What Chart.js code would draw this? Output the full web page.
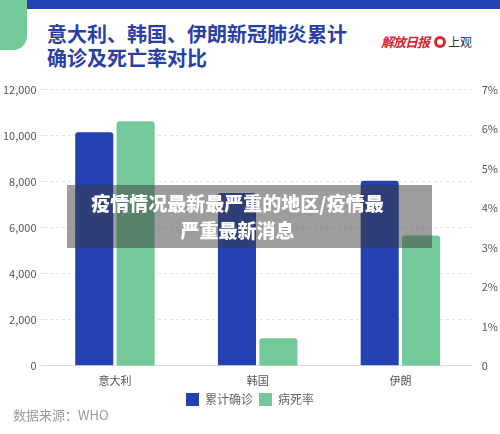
<!DOCTYPE html>
<html><head><meta charset="utf-8">
<script src="https://cdn.jsdelivr.net/npm/chart.js"></script>
<style>
body{margin:0;width:500px;height:434px;background:#fff;font-family:"Noto Sans CJK SC","Noto Sans",sans-serif;position:relative;overflow:hidden}
#top{position:absolute;left:0;top:0;width:500px;height:9px;background:#2341b0}
#tab{position:absolute;left:0;top:0;width:27px;height:50px;background:#74c99a;border-bottom-right-radius:14px}
#title{position:absolute;left:47px;top:22px;font-size:20px;font-weight:bold;color:#2a3fa6;line-height:24px}
#logo1{position:absolute;left:381px;top:32px;color:#d8262e;font-size:13px;font-style:italic;font-weight:bold;letter-spacing:-1px}
#logo2{position:absolute;left:434px;top:33px;color:#333;font-size:12px}
#logo2 span{display:inline-block;width:6px;height:6px;border:3px solid #d8262e;border-radius:50%;vertical-align:-1px;margin-right:2px}
#wrap{position:absolute;left:0;top:80px;width:500px;height:336px}
#banner{position:absolute;left:67px;top:185px;width:365px;height:63px;background:rgba(60,60,60,0.5);color:#fff;font-weight:900;font-size:19px;text-align:center;line-height:27px;padding-top:4px;padding-right:24px;box-sizing:border-box}
#src{position:absolute;left:13px;top:405px;color:#999;font-size:13px}
</style></head><body>
<div id="top"></div><div id="tab"></div>
<div id="title">意大利、韩国、伊朗新冠肺炎累计<br>确诊及死亡率对比</div>
<div id="logo1">解放日报</div>
<div id="logo2"><span></span>上观</div>
<div id="wrap"><canvas id="c"></canvas></div>
<div id="banner">疫情情况最新最严重的地区/疫情最<br>严重最新消息</div>
<div id="src">数据来源：WHO</div>
<script>
const categories=["意大利","韩国","伊朗"];
const confirmed=[10149,7513,8042];
const deathRate=[6.2,0.7,3.3];
const leftTicks=[0,2000,4000,6000,8000,10000,12000];
Chart.defaults.font.family='"Noto Sans CJK SC","Noto Sans",sans-serif';
new Chart(document.getElementById('c'),{
 type:'bar',
 data:{labels:categories,datasets:[
  {label:'累计确诊',data:confirmed,backgroundColor:'#2341b0',yAxisID:'y',borderRadius:3,categoryPercentage:0.58,barPercentage:0.92},
  {label:'病死率',data:deathRate,backgroundColor:'#74c99a',yAxisID:'y1',borderRadius:3,categoryPercentage:0.58,barPercentage:0.92}]},
 options:{responsive:true,maintainAspectRatio:false,animation:false,
  layout:{padding:{top:3,left:0,right:0}},
  plugins:{legend:{position:'bottom',labels:{boxWidth:13,boxHeight:13,color:'#666',font:{size:12},padding:6}},tooltip:{enabled:false}},
  scales:{
   x:{grid:{display:false},border:{color:'#ddd'},ticks:{color:'#555',font:{size:11},padding:0}},
   y:{min:0,max:12000,afterBuildTicks:a=>{a.ticks=leftTicks.map(v=>({value:v}))},
      grid:{color:'#e3e3e3',drawTicks:true,tickLength:4},border:{display:false,dash:[3,3]},
      ticks:{color:'#555',font:{size:11},callback:v=>v.toLocaleString('en-US')}},
   y1:{position:'right',min:0,max:7,grid:{display:false},border:{display:false},
      ticks:{stepSize:1,color:'#555',font:{size:11},padding:2,callback:v=>v===0?'0':v+'%'}}
  }}
});
</script></body></html>
